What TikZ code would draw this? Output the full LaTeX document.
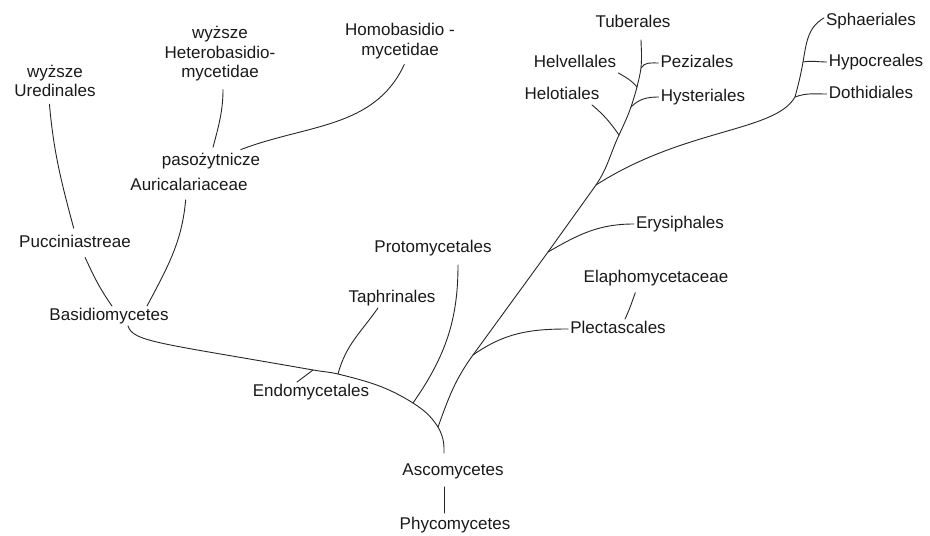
\documentclass[tikz,border=0pt]{standalone}
\usepackage{fontspec}
\setmainfont{Liberation Sans}
\usetikzlibrary{calc}

\begin{document}
\begin{tikzpicture}[
  x=1pt,y=1pt,
  group/.style={inner sep=2pt, align=center, text=black!90,
    font=\fontsize{17}{19.5}\selectfont},
  taxon/.style={group, text height=12pt, text depth=3.5pt},
  branch/.style={draw=black!85, line width=0.9pt, line cap=round},
]
\useasboundingbox (0,0) rectangle (930,536);

% ================= Basidiomycetes =================
\node[group] (wyzU) at (55,455) {wyższe\\Uredinales};
\node[group] (wyzH) at (220,482) {wyższe\\Heterobasidio-\\mycetidae};
\node[group] (homo) at (400,495) {Homobasidio -\\mycetidae};
\node[taxon] (paso) at (211,375) {pasożytnicze};
\node[taxon] (auri) at (189,350) {Auricalariaceae};
\node[taxon] (pucc) at (75,293) {Pucciniastreae};
\node[taxon] (basi) at (109,220) {Basidiomycetes};

\draw[branch, shorten <=5pt, shorten >=5pt] ([xshift=-6pt]wyzU.south) to[out=-85,in=105] (pucc.north);
\draw[branch, shorten <=5pt] ([xshift=8pt]pucc.south) to[out=-65,in=125] ([xshift=3pt]basi.north);
\draw[branch, shorten <=4pt] ([xshift=-3pt]auri.south) to[out=-95,in=62] ([xshift=38pt]basi.north);
\draw[branch, shorten <=6pt, shorten >=4pt] ([xshift=3pt]wyzH.south) to[out=-90,in=75] ([xshift=1pt]paso.north);
\draw[branch, shorten <=4pt, shorten >=4pt] ([xshift=6pt]homo.south) to[out=-115,in=21] ([xshift=26pt]paso.north);

% ================= lower branches =================
\node[taxon] (endo) at (311,144) {Endomycetales};
\node[taxon] (taph) at (392,238) {Taphrinales};
\node[taxon] (prot) at (433,288) {Protomycetales};
\node[taxon] (asco) at (453,65) {Ascomycetes};
\node[taxon] (phyc) at (455,11) {Phycomycetes};

\coordinate (jEndo) at (313,166);
\coordinate (jTaph) at (338,162);
\coordinate (jProt) at (413,133);
\coordinate (jAsco) at (438,109);

\draw[branch, shorten >=8pt] ([xshift=19pt]basi.south) .. controls +(5,-16) and (160,193) .. (jEndo)
  to[out=-10,in=167] (jTaph) to[out=-14,in=148] (jProt)
  to[out=-33,in=123] (jAsco) to[out=-60,in=90] ([xshift=-9pt]asco.north);
\draw[branch, shorten <=6pt, shorten >=2pt] ([xshift=-9pt]asco.south) -- ([xshift=-11pt]phyc.north);
\draw[branch] (jEndo) -- ([xshift=-14pt]endo.north);
\draw[branch] (jTaph) to[out=75,in=235] ([xshift=-14pt]taph.south);
\draw[branch, shorten >=7pt] (jProt) to[out=55,in=-90] ([xshift=25pt]prot.south);

% ================= Ascomycetes trunk =================
\node[taxon] (plec) at (618,207) {Plectascales};
\node[taxon] (elap) at (656,258) {Elaphomycetaceae};
\node[taxon] (erys) at (680,312) {Erysiphales};
\node[taxon] (helo) at (562,441) {Helotiales};
\node[taxon] (hyst) at (703,439) {Hysteriales};
\node[taxon] (helv) at (575,473) {Helvellales};
\node[taxon] (pezi) at (697,473) {Pezizales};
\node[taxon] (tube) at (633,513) {Tuberales};
\node[taxon] (spha) at (871,515) {Sphaeriales};
\node[taxon] (hypo) at (876,474) {Hypocreales};
\node[taxon] (doth) at (871,442) {Dothidiales};

\coordinate (jPlec) at (473,181);
\coordinate (jErys) at (548,284);
\coordinate (jBig) at (596,351);
\coordinate (jHelo) at (619,401);
\coordinate (jHyst) at (631,429);
\coordinate (jHelv) at (637,449);
\coordinate (jPezi) at (641,468);
\coordinate (jDoth) at (795,439);
\coordinate (jHypo) at (803,474);

\draw[branch, shorten >=7pt] (jAsco) to[out=70,in=-126] (jPlec) -- (jErys)
  -- (jBig) to[out=56,in=-115] (jHelo) to[out=65,in=-110] (jHyst)
  to[out=72,in=-105] (jHelv) to[out=77,in=-98] (jPezi) to[out=85,in=-90] ([xshift=8pt]tube.south);
\draw[branch] (jPlec) to[out=35,in=180] (plec.west);
\draw[branch] (jErys) to[out=30,in=180] (erys.west);
\draw[branch, shorten <=5pt] ([xshift=-19pt]elap.south) to[out=-110,in=65] ([xshift=7pt]plec.north);
\draw[branch] (jHelo) to[out=125,in=-40] ([xshift=30pt]helo.south);
\draw[branch] (jHyst) to[out=45,in=180] (hyst.west);
\draw[branch] (jHelv) to[out=130,in=-30] (helv.south east);
\draw[branch] (jPezi) to[out=60,in=180] (pezi.west);

\draw[branch] (jBig) .. controls (685,408) and (775,404) .. (jDoth)
  to[out=75,in=-100] (jHypo) to[out=80,in=-150] ([yshift=3pt]spha.west);
\draw[branch] (jDoth) to[out=20,in=180] (doth.west);
\draw[branch] (jHypo) to[out=10,in=180] (hypo.west);

\end{tikzpicture}
\end{document}
